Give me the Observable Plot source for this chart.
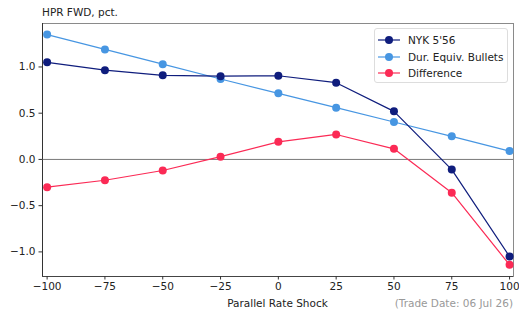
<!DOCTYPE html>
<html>
<head>
<meta charset="utf-8">
<script src="https://cdn.jsdelivr.net/npm/d3@7"></script>
<script src="https://cdn.jsdelivr.net/npm/@observablehq/plot@0.6"></script>
<style>
  html, body { margin: 0; padding: 0; background: #fff; }
  #wrap { position: relative; width: 519px; height: 314px; font-family: "DejaVu Sans", sans-serif; color: #222; }
  .abs { position: absolute; white-space: nowrap; font-size: 10.5px; line-height: 12px; }
  #legend { position: absolute; left: 374px; top: 28px; width: 134px; height: 55px; border: 1px solid #ddd; border-radius: 3px; background: rgba(255,255,255,0.85); box-sizing: border-box; }
  .item { position: absolute; left: 2px; height: 14px; font-size: 10.5px; line-height: 14px; }
  .item svg { position: absolute; left: 0; top: 0; }
  .item span { position: absolute; left: 31px; top: 0; white-space: nowrap; }
</style>
</head>
<body>
<div id="wrap"></div>
<script>
const shocks = [-100, -75, -50, -25, 0, 25, 50, 75, 100];
const nyk = [1.05, 0.965, 0.91, 0.90, 0.905, 0.83, 0.52, -0.11, -1.05];
const bullets = [1.35, 1.19, 1.03, 0.87, 0.715, 0.56, 0.405, 0.25, 0.09];
const difference = [-0.30, -0.225, -0.12, 0.03, 0.19, 0.27, 0.115, -0.36, -1.14];
const seriesNames = ["NYK 5'56", "Dur. Equiv. Bullets", "Difference"];
const seriesColors = ["#0f1d7d", "#4796e2", "#fb2a55"];
const xTicks = [-100, -75, -50, -25, 0, 25, 50, 75, 100];
const yTicks = [-1.0, -0.5, 0.0, 0.5, 1.0];
const titleText = "HPR FWD, pct.";
const xLabel = "Parallel Rate Shock";
const caption = "(Trade Date: 06 Jul 26)";

const xDomain = [-102, 101.7];
const yDomain = [-1.266, 1.47];

const rows = [];
const drawOrder = [1, 0, 2];
const seriesValues = [nyk, bullets, difference];
for (const si of drawOrder) {
  shocks.forEach((s, i) => rows.push({series: seriesNames[si], x: s, y: seriesValues[si][i]}));
}

const fmt = d3.format(".1f");
const fmtX = d3.format("d");

const plot = Plot.plot({
  width: 519,
  height: 314,
  marginTop: 23,
  marginLeft: 42,
  marginRight: 6,
  marginBottom: 38,
  style: {fontFamily: "DejaVu Sans, sans-serif", fontSize: "10.5px", color: "#222", background: "#fff"},
  x: {domain: xDomain, label: null},
  y: {domain: yDomain, label: null},
  color: {domain: seriesNames, range: seriesColors},
  marks: [
    Plot.frame({stroke: "#8a8a8a", strokeWidth: 1}),
    Plot.ruleX([xDomain[0]], {stroke: "#333", strokeWidth: 1}),
    Plot.ruleY([yDomain[0]], {stroke: "#444", strokeWidth: 1}),
    Plot.ruleY([0], {stroke: "#555", strokeWidth: 0.8}),
    Plot.axisX(xTicks, {tickSize: 3.5, tickPadding: 3, tickFormat: fmtX, fontSize: 10.5, label: null, stroke: "#333"}),
    Plot.axisY(yTicks, {tickSize: 3.5, tickPadding: 3.5, tickFormat: fmt, fontSize: 10.5, label: null, stroke: "#333"}),
    Plot.line(rows, {x: "x", y: "y", z: "series", stroke: "series", strokeWidth: 1.2}),
    Plot.dot(rows, {x: "x", y: "y", fill: "series", r: 4, stroke: "none"})
  ]
});

const wrap = document.getElementById("wrap");
plot.style.position = "absolute";
plot.style.left = "0px";
plot.style.top = "0px";
wrap.appendChild(plot);

const t = document.createElement("div");
t.className = "abs"; t.textContent = titleText;
t.style.left = "42px"; t.style.top = "6px";
wrap.appendChild(t);

const xl = document.createElement("div");
xl.className = "abs"; xl.textContent = xLabel;
xl.style.left = "277.5px"; xl.style.top = "297px"; xl.style.transform = "translateX(-50%)";
wrap.appendChild(xl);

const cap = document.createElement("div");
cap.className = "abs"; cap.textContent = caption;
cap.style.right = "6px"; cap.style.top = "297px"; cap.style.color = "#999";
wrap.appendChild(cap);

const legend = document.createElement("div");
legend.id = "legend";
seriesNames.forEach((name, i) => {
  const item = document.createElement("div");
  item.className = "item";
  item.style.top = (4 + i * 16.5) + "px";
  item.style.width = "128px";
  item.innerHTML = `<svg width="26" height="14"><line x1="1" x2="23" y1="7" y2="7" stroke="${seriesColors[i]}" stroke-width="1.2"/><circle cx="12" cy="7" r="4" fill="${seriesColors[i]}"/></svg><span>${name}</span>`;
  legend.appendChild(item);
});
wrap.appendChild(legend);
</script>
</body>
</html>
